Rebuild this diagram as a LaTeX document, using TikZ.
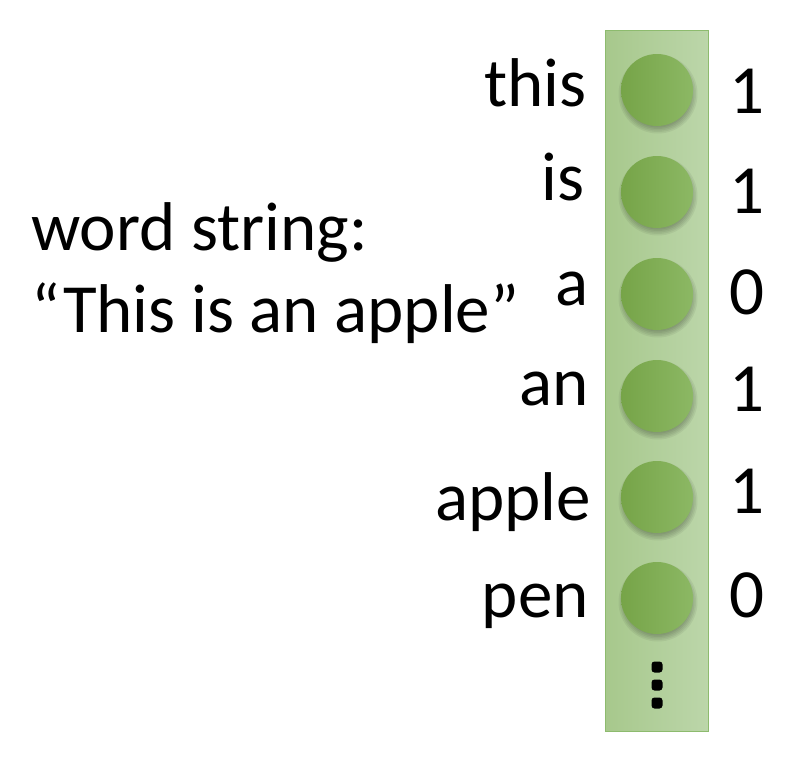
\documentclass[tikz,border=0pt]{standalone}
\usepackage{fontspec}
\setmainfont{Carlito}
\definecolor{barL}{HTML}{A7C88C}
\definecolor{barR}{HTML}{BCD6AA}
\definecolor{barE}{HTML}{8DBB6E}
\definecolor{dotL}{HTML}{76A448}
\definecolor{dotR}{HTML}{8CB864}
\tikzset{
  big/.style={inner sep=0pt,font=\fontsize{69}{80}\selectfont},
  word/.style={big,anchor=base east},
  num/.style={big,anchor=base west},
  ball/.style={circle,minimum size=72pt,inner sep=0pt,left color=dotL,right color=dotR},
  softshade/.style={fill=black,opacity=0.055},
  ellip/.style={rounded corners=3pt,fill=black,minimum size=11pt,inner sep=0pt,rectangle}
}
\begin{document}
\begin{tikzpicture}[x=1pt,y=-1pt]
\useasboundingbox (0,0) rectangle (798,758);
\node[draw=barE,line width=1pt,left color=barL,right color=barR,minimum width=103pt,minimum height=701pt,inner sep=0pt,anchor=north west] (bar) at (605,30) {};
\foreach \i/\y in {1/90,2/192,3/294,4/396,5/497,6/598}{
  \foreach \r in {32,33.5,35,36.5,38,39.5}{
    \fill[softshade] (658,\y+4) circle[radius=\r];
  }
  \node[ball] (b\i) at (657,\y) {};
}
\node[ellip] (d1) at (657,667) {};
\node[ellip] (d2) at (657,685) {};
\node[ellip] (d3) at (657,703) {};
\node[word] (w1) at (587,106) {this};
\node[word] (w2) at (585,200) {is};
\node[word] (w3) at (589,305) {a};
\node[word] (w4) at (589,405) {an};
\node[word] (w5) at (591,520) {apple};
\node[word] (w6) at (589,617) {pen};
\node[num] (n1) at (729,113) {1};
\node[num] (n2) at (729,213) {1};
\node[num] (n3) at (729,314) {0};
\node[num] (n4) at (729,411) {1};
\node[num] (n5) at (729,513) {1};
\node[num] (n6) at (729,617) {0};
\node[big,anchor=base west] (t1) at (31,250) {word string:};
\node[big,anchor=base west] (t2) at (31,332) {“This is an apple”};
\end{tikzpicture}
\end{document}
